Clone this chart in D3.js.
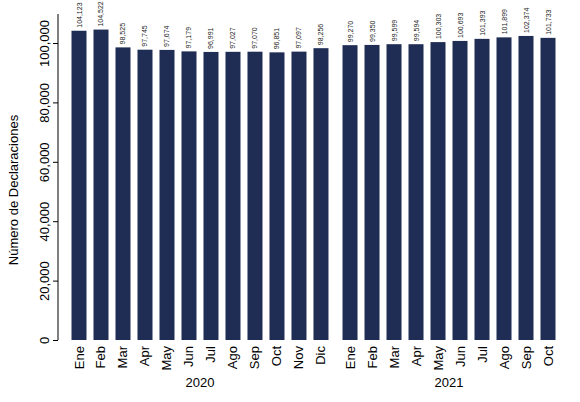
<!DOCTYPE html><html><head><script src="https://cdn.jsdelivr.net/npm/d3@7"></script>
<style>body{margin:0;background:#fff}text{font-family:"Liberation Sans",Arial,sans-serif}</style></head><body>
<svg id="c" width="580" height="402"></svg>
<script>
const months2020=["Ene","Feb","Mar","Apr","May","Jun","Jul","Ago","Sep","Oct","Nov","Dic"];
const values2020=[104123,104522,98525,97745,97674,97179,96991,97027,97070,96851,97097,98256];
const months2021=["Ene","Feb","Mar","Apr","May","Jun","Jul","Ago","Sep","Oct"];
const values2021=[99270,99350,99599,99594,100303,100693,101393,101899,102374,101733];
const yTicks=[0,20000,40000,60000,80000,100000];
const years=["2020","2021"];
const data=[...values2020.map((v,i)=>({m:months2020[i],v,pos:i,y:0})),...values2021.map((v,i)=>({m:months2021[i],v,pos:12.32+i,y:1}))];
const svg=d3.select("#c");
const x=d3.scaleLinear().domain([0,21.32]).range([79,548]);
const y=d3.scaleLinear().domain([0,100000]).range([340,43]);
const fmt=d3.format(",");
const ax=svg.append("g").attr("transform","translate(58,0)").call(d3.axisLeft(y).tickValues(yTicks).tickFormat(fmt).tickSize(5));
ax.select(".domain").attr("d","M0,340V14");
ax.selectAll(".tick text").attr("transform","rotate(-90)").attr("x",0).attr("y",-9).attr("dy","0").attr("text-anchor","middle").attr("font-size",13).attr("fill","#000");
ax.selectAll("line,path").attr("stroke","#000");
svg.append("text").attr("transform","translate(18,190) rotate(-90)").attr("text-anchor","middle").attr("font-size",13).text("Número de Declaraciones");
const bw=15;
svg.selectAll("rect").data(data).join("rect").attr("x",d=>x(d.pos)-bw/2).attr("width",bw).attr("y",d=>y(d.v)).attr("height",d=>y(0)-y(d.v)).attr("fill","#1f2d55");
svg.selectAll(".vl").data(data).join("text").attr("transform",d=>`translate(${x(d.pos)+2.5},${y(d.v)-3}) rotate(-90)`).attr("font-size",7).attr("fill","#222").text(d=>fmt(d.v));
svg.selectAll(".ml").data(data).join("text").attr("transform",d=>`translate(${x(d.pos)+4.5},346) rotate(-90)`).attr("text-anchor","end").attr("font-size",13).text(d=>d.m);
svg.selectAll(".yr").data(years).join("text").attr("x",(d,i)=>i?x(12.32+4.5):x(5.5)).attr("y",387).attr("text-anchor","middle").attr("font-size",13).text(d=>d);
</script></body></html>
